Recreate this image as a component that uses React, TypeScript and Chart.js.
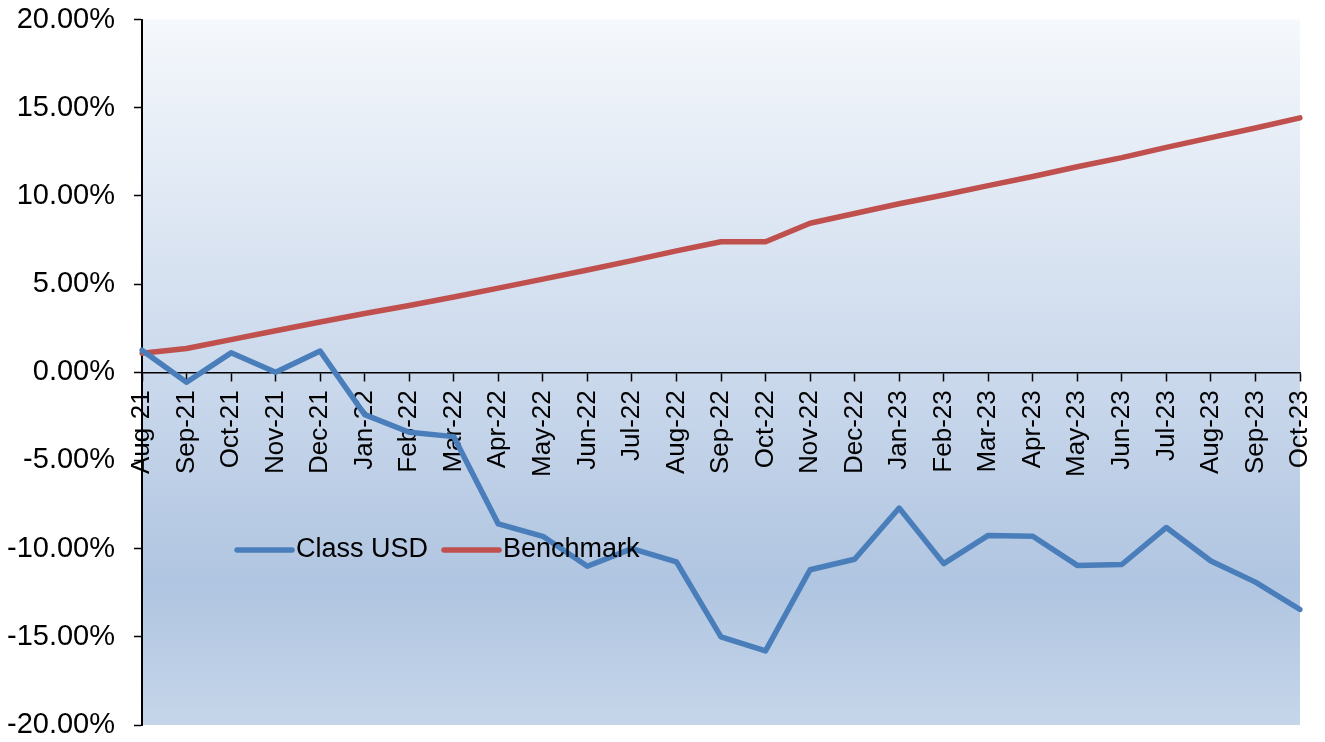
import React, { useEffect, useRef } from "react";
import { Chart, registerables } from "chart.js";

Chart.register(...registerables);

const months = [
  "Aug-21", "Sep-21", "Oct-21", "Nov-21", "Dec-21",
  "Jan-22", "Feb-22", "Mar-22", "Apr-22", "May-22", "Jun-22", "Jul-22",
  "Aug-22", "Sep-22", "Oct-22", "Nov-22", "Dec-22",
  "Jan-23", "Feb-23", "Mar-23", "Apr-23", "May-23", "Jun-23", "Jul-23",
  "Aug-23", "Sep-23", "Oct-23",
];

const classUsd = [
  1.25, -0.57, 1.1, 0.0, 1.2,
  -2.4, -3.4, -3.65, -8.6, -9.3, -11.0, -10.0,
  -10.75, -15.0, -15.8, -11.2, -10.6,
  -7.7, -10.85, -9.25, -9.3, -10.95, -10.9, -8.8,
  -10.7, -11.9, -13.45,
];

const benchmark = [
  1.08, 1.35, 1.85, 2.35, 2.85,
  3.33, 3.78, 4.27, 4.77, 5.28, 5.8, 6.33,
  6.88, 7.4, 7.4, 8.45, 9.0,
  9.55, 10.05, 10.58, 11.1, 11.65, 12.17, 12.75,
  13.3, 13.85, 14.42,
];

const seriesNames = ["Class USD", "Benchmark"];
const seriesColors = ["#4A7EBB", "#C0504D"];

const yMin = -20;
const yMax = 20;
const yStep = 5;

const FONT = "'Liberation Sans', Arial, sans-serif";

const bgPlugin = {
  id: "bgGradient",
  beforeDraw(chart: any) {
    const { ctx, chartArea } = chart;
    if (!chartArea) return;
    const { left, top, right, bottom } = chartArea;
    const g = ctx.createLinearGradient(0, top, 0, bottom);
    g.addColorStop(0, "#f5f8fc");
    g.addColorStop(0.5, "#cbd9ec");
    g.addColorStop(0.8, "#b0c5e1");
    g.addColorStop(1, "#c6d6ea");
    ctx.save();
    ctx.fillStyle = g;
    ctx.fillRect(left, top, right - left, bottom - top);
    ctx.restore();
  },
};

const legendPlugin = {
  id: "innerLegend",
  afterDatasetsDraw(chart: any) {
    const { ctx, chartArea } = chart;
    const baseX = chartArea.left + 95;
    const y = 550;
    const lineLen = 55;
    ctx.save();
    ctx.font = `27px ${FONT}`;
    ctx.textBaseline = "middle";
    ctx.textAlign = "left";
    let x = baseX;
    chart.data.datasets.forEach((ds: any) => {
      ctx.strokeStyle = ds.borderColor;
      ctx.lineWidth = 5.5;
      ctx.lineCap = "round";
      ctx.beginPath();
      ctx.moveTo(x, y);
      ctx.lineTo(x + lineLen, y);
      ctx.stroke();
      ctx.fillStyle = "#000";
      const tx = x + lineLen + 4;
      ctx.fillText(ds.label, tx, y);
      x = tx + ctx.measureText(ds.label).width + 16;
    });
    ctx.restore();
  },
};

export default function App() {
  const ref = useRef<HTMLCanvasElement | null>(null);

  useEffect(() => {
    if (!ref.current) return;
    const chart = new Chart(ref.current, {
      type: "line",
      data: {
        labels: months,
        datasets: [
          {
            label: seriesNames[0],
            data: classUsd,
            borderColor: seriesColors[0],
            backgroundColor: seriesColors[0],
            borderWidth: 5.5,
            pointRadius: 0,
            tension: 0,
            borderJoinStyle: "round",
            borderCapStyle: "round",
          },
          {
            label: seriesNames[1],
            data: benchmark,
            borderColor: seriesColors[1],
            backgroundColor: seriesColors[1],
            borderWidth: 5.5,
            pointRadius: 0,
            tension: 0,
            borderJoinStyle: "round",
            borderCapStyle: "round",
          },
        ],
      },
      options: {
        animation: false,
        responsive: false,
        layout: { padding: { left: 0, top: 19.5, right: 25, bottom: 17 } },
        plugins: {
          legend: { display: false },
          tooltip: { enabled: false },
          title: { display: false },
        },
        scales: {
          x: {
            type: "category",
            position: { y: 0 } as any,
            offset: false,
            afterFit(scale: any) {
              scale.height = 0;
              scale.paddingLeft = 0;
              scale.paddingRight = 0;
              scale.paddingTop = 0;
              scale.paddingBottom = 0;
            },
            grid: {
              drawOnChartArea: false,
              drawTicks: true,
              tickLength: 8,
              tickColor: "#000",
              tickWidth: 1.5,
            },
            border: { display: true, color: "#000", width: 1.5 },
            ticks: {
              autoSkip: false,
              maxRotation: 90,
              minRotation: 90,
              padding: 10,
              color: "#000",
              font: { family: FONT, size: 26 },
            },
          },
          y: {
            type: "linear",
            min: yMin,
            max: yMax,
            afterFit(scale: any) {
              scale.width = 142;
              scale.paddingTop = 0;
              scale.paddingBottom = 0;
              scale.paddingLeft = 0;
              scale.paddingRight = 0;
            },
            grid: {
              drawOnChartArea: false,
              drawTicks: true,
              tickLength: 8,
              tickColor: "#000",
              tickWidth: 1.5,
            },
            border: { display: true, color: "#000", width: 2 },
            ticks: {
              stepSize: yStep,
              padding: 19,
              color: "#000",
              font: { family: FONT, size: 29 },
              callback: (v: any) => Number(v).toFixed(2) + "%",
            },
          },
        },
      },
      plugins: [bgPlugin, legendPlugin],
    });
    return () => chart.destroy();
  }, []);

  return (
    <div style={{ position: "absolute", left: 0, top: 0, width: 1325, height: 742, background: "#fff" }}>
      <canvas ref={ref} width={1325} height={742} style={{ display: "block" }} />
    </div>
  );
}
